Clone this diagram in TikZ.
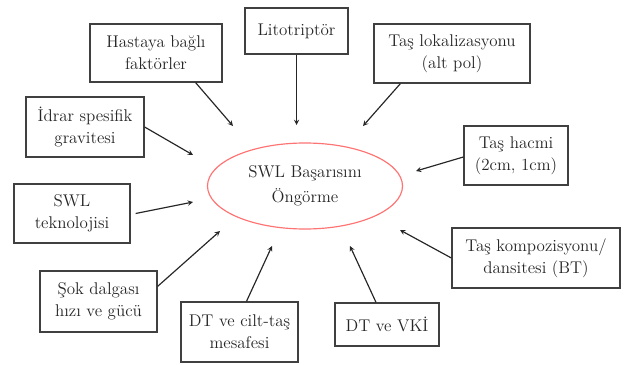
\documentclass[tikz,border=0pt]{standalone}
\usepackage{fontspec}
\usepackage{tikz}
\usetikzlibrary{shapes.geometric}

\begin{document}
\begin{tikzpicture}[x=0.03cm, y=-0.03cm,
		factor/.style={draw=black!75, line width=1.1pt, align=center, inner sep=2pt, text=black!85, font=\fontsize{14.5}{19}\selectfont},
		goal/.style={draw=red!55, line width=1pt, ellipse, align=center, text=black!85, font=\fontsize{14.5}{21}\selectfont},
		effect/.style={->, >=stealth, line width=1pt, black!85}]
				\useasboundingbox (0,0) rectangle (635,365);
				\node[goal, minimum width=5.85cm, minimum height=2.58cm] (S)at(305, 186) {SWL Başarısını\\Öngörme};
				\node[factor, minimum width=3.96cm, minimum height=1.74cm] (H)at(156, 53) {Hastaya bağlı\\faktörler};
				\node[factor, minimum width=3.09cm, minimum height=1.38cm] (L)at(296.5, 31) {Litotriptör};
				\node[factor, minimum width=4.68cm, minimum height=1.77cm] (K)at(452, 53.5) {Taş lokalizasyonu\\(alt pol)};
				\node[factor, minimum width=3.54cm, minimum height=1.8cm] (I)at(85, 127) {İdrar spesifik\\gravitesi};
				\node[factor, minimum width=3.12cm, minimum height=1.77cm] (V)at(516, 155.5) {Taş hacmi\\(2cm, 1cm)};
				\node[factor, minimum width=3.48cm, minimum height=1.77cm] (T)at(72, 213.5) {SWL\\teknolojisi};
				\node[factor, minimum width=3.51cm, minimum height=1.83cm] (D)at(98.5, 301.5) {Şok dalgası\\hızı ve gücü};
				\node[factor, minimum width=3.51cm, minimum height=1.8cm] (C)at(239.5, 332) {DT ve cilt-taş\\mesafesi};
				\node[factor, minimum width=3.12cm, minimum height=1.29cm] (B)at(387, 324.5) {DT ve VKİ};
				\node[factor, minimum width=5.04cm, minimum height=1.8cm] (P)at(536, 258) {Taş kompozisyonu/\\dansitesi (BT)};
				\coordinate (h)at(233, 126);
				\coordinate (l)at(296.5, 125);
				\coordinate (k)at(363, 126);
				\coordinate (i)at(193, 155);
				\coordinate (v)at(416, 171);
				\coordinate (t)at(193, 202);
				\coordinate (d)at(220, 231);
				\coordinate (c)at(272, 246);
				\coordinate (b)at(350, 246);
				\coordinate (p)at(400, 230);
				\draw[effect] (H.south east)++(-27,0) -- (h);
				\draw[effect] (L) -- (l);
				\draw[effect] (K.south west)++(27,0) -- (k);
				\draw[effect] (I.east) -- (i);
				\draw[effect] (V.west)++(0,1.5) -- (v);
				\draw[effect] (T.east)++(5,0) -- (t);
				\draw[effect] (D.north east)++(0,16) -- (d);
				\draw[effect] (C.north)++(7,0) -- (c);
				\draw[effect] (B.north)++(-11,0) -- (b);
				\draw[effect] (P.west) -- (p);
			\end{tikzpicture}
\end{document}
